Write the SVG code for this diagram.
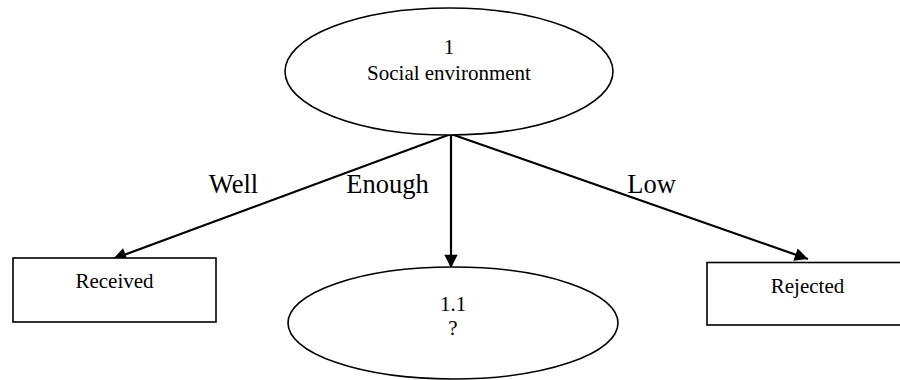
<svg xmlns="http://www.w3.org/2000/svg" width="900" height="380" viewBox="0 0 900 380">
<defs>
<style>
.shape{fill:#fff;stroke:#000;stroke-width:1.6}
.edge{fill:none;stroke:#000;stroke-width:2.2}
.t{font-family:"Liberation Serif","Times New Roman",serif;fill:#000;text-anchor:middle}
.n{font-size:21px}
.l{font-size:26.5px}
</style>
<marker id="arr" viewBox="0 0 10 10" refX="10" refY="5" markerWidth="7" markerHeight="6" markerUnits="strokeWidth" orient="auto">
<path d="M0,0 L10,5 L0,10 z" fill="#000"/>
</marker>
</defs>
<rect width="900" height="380" fill="#fff"/>
<g id="connectors">
<line class="edge" x1="451" y1="134" x2="113" y2="259" marker-end="url(#arr)"/>
<line class="edge" x1="451" y1="134" x2="451" y2="268" marker-end="url(#arr)"/>
<line class="edge" x1="451" y1="134" x2="808" y2="259" marker-end="url(#arr)"/>
<text class="t l" x="233.5" y="193">Well</text>
<text class="t l" x="387.5" y="193">Enough</text>
<text class="t l" x="651.5" y="193">Low</text>
</g>
<g id="n1">
<ellipse class="shape" cx="449" cy="71.5" rx="164" ry="63.5"/>
<text class="t n" x="449" y="54">1</text>
<text class="t n" x="449" y="80">Social environment</text>
</g>
<g id="received">
<rect class="shape" x="13" y="258" width="203" height="64"/>
<text class="t n" x="114.5" y="288">Received</text>
</g>
<g id="n11">
<ellipse class="shape" cx="453" cy="323" rx="165" ry="56"/>
<text class="t n" x="453" y="311">1.1</text>
<text class="t n" x="453" y="335">?</text>
</g>
<g id="rejected">
<rect class="shape" x="707" y="262.5" width="201" height="62.5"/>
<text class="t n" x="807.5" y="293">Rejected</text>
</g>
</svg>
